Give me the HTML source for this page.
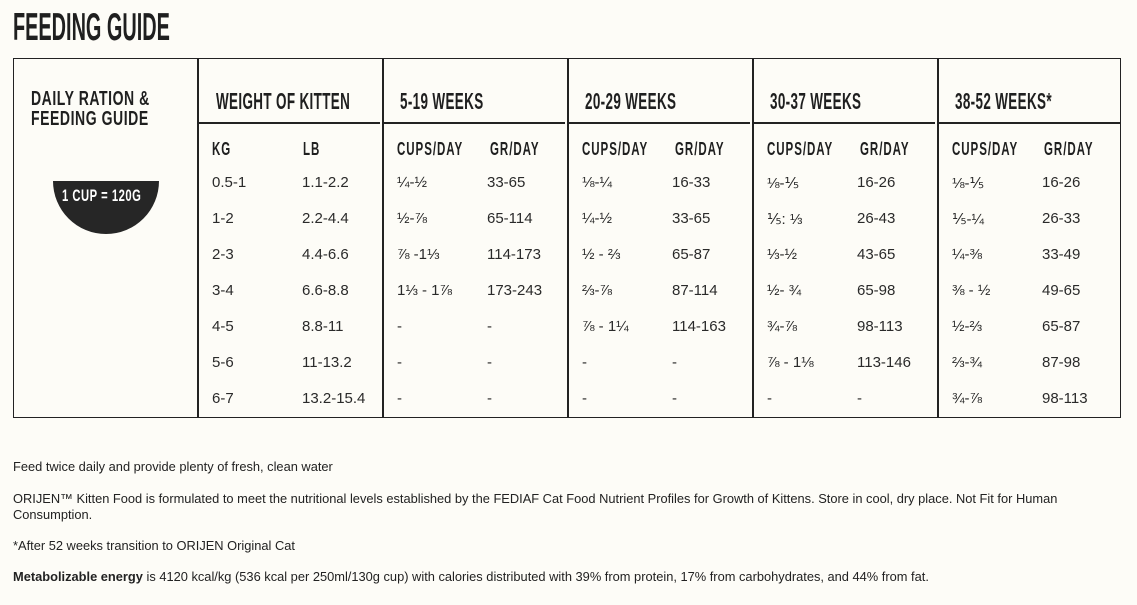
<!DOCTYPE html>
<html><head><meta charset="utf-8"><style>
body{margin:0;width:1137px;height:605px;background:#fdfcf7;position:relative;overflow:hidden;font-family:"Liberation Sans",sans-serif;color:#222}
.a{position:absolute;white-space:nowrap}
.h{font-family:"Liberation Sans",sans-serif;font-weight:bold;color:#1f1f1f;transform-origin:left top}
.hd{font-size:23px;letter-spacing:0.6px;top:88px;transform:scaleX(0.585)}
.sh{font-size:18px;letter-spacing:1.5px;top:139px;transform:scaleX(0.64)}
.d{font-family:"Liberation Sans",sans-serif;font-size:15px;color:#2a2a2a}
.vl{position:absolute;top:58px;height:360px;width:1.5px;background:#222}
.hl{position:absolute;top:122px;height:1.5px;background:#222}
.f{position:absolute;left:13px;font-size:12.85px;color:#222;line-height:16px;white-space:nowrap}
</style></head><body>
<div class="a h" style="left:13px;top:6px;font-size:39px;transform:scaleX(0.51)">FEEDING GUIDE</div>
<div style="position:absolute;left:13px;top:58px;width:1106px;height:358px;border:1.5px solid #222"></div>
<div class="vl" style="left:197px"></div><div class="vl" style="left:382px"></div><div class="vl" style="left:567px"></div><div class="vl" style="left:752px"></div><div class="vl" style="left:937px"></div>
<div class="hl" style="left:199px;width:181px"></div><div class="hl" style="left:384px;width:181px"></div><div class="hl" style="left:569px;width:181px"></div><div class="hl" style="left:754px;width:181px"></div><div class="hl" style="left:939px;width:181px"></div>
<div class="a h" style="left:31px;top:89px;font-size:20px;letter-spacing:0.8px;line-height:20px;transform:scaleX(0.7)">DAILY RATION &amp;<br>FEEDING GUIDE</div>
<div style="position:absolute;left:53px;top:181px;width:106px;height:53px;background:#262626;border-radius:0 0 53px 53px"></div>
<div class="a h" style="left:62px;top:186px;font-size:17px;color:#fff;letter-spacing:0.8px;transform:scaleX(0.66)">1 CUP = 120G</div>
<div class="a h hd" style="left:216px">WEIGHT OF KITTEN</div>
<div class="a h hd" style="left:400px">5-19 WEEKS</div>
<div class="a h hd" style="left:585px">20-29 WEEKS</div>
<div class="a h hd" style="left:770px">30-37 WEEKS</div>
<div class="a h hd" style="left:955px">38-52 WEEKS*</div>
<div class="a h sh" style="left:212px">KG</div><div class="a h sh" style="left:303px">LB</div>
<div class="a h sh" style="left:397px">CUPS/DAY</div><div class="a h sh" style="left:490px">GR/DAY</div>
<div class="a h sh" style="left:582px">CUPS/DAY</div><div class="a h sh" style="left:675px">GR/DAY</div>
<div class="a h sh" style="left:767px">CUPS/DAY</div><div class="a h sh" style="left:860px">GR/DAY</div>
<div class="a h sh" style="left:952px">CUPS/DAY</div><div class="a h sh" style="left:1044px">GR/DAY</div>
<div id="rows"></div>
<script>
var cols=[212,302,397,487,582,672,767,857,952,1042];
var data=[
["0.5-1","1.1-2.2","¼-½","33-65","⅛-¼","16-33","⅛-⅕","16-26","⅛-⅕","16-26"],
["1-2","2.2-4.4","½-⅞","65-114","¼-½","33-65","⅕: ⅓","26-43","⅕-¼","26-33"],
["2-3","4.4-6.6","⅞ -1⅓","114-173","½ - ⅔","65-87","⅓-½","43-65","¼-⅜","33-49"],
["3-4","6.6-8.8","1⅓ - 1⅞","173-243","⅔-⅞","87-114","½- ¾","65-98","⅜ - ½","49-65"],
["4-5","8.8-11","-","-","⅞ - 1¼","114-163","¾-⅞","98-113","½-⅔","65-87"],
["5-6","11-13.2","-","-","-","-","⅞ - 1⅛","113-146","⅔-¾","87-98"],
["6-7","13.2-15.4","-","-","-","-","-","-","¾-⅞","98-113"]];
var h="";data.forEach(function(r,i){r.forEach(function(t,j){h+='<div class="a d" style="left:'+cols[j]+'px;top:'+(174+i*36)+'px">'+t+'</div>'})});
document.getElementById("rows").innerHTML=h;
</script>
<div class="f" style="top:459px">Feed twice daily and provide plenty of fresh, clean water</div>
<div class="f" style="top:491px">ORIJEN™ Kitten Food is formulated to meet the nutritional levels established by the FEDIAF Cat Food Nutrient Profiles for Growth of Kittens. Store in cool, dry place. Not Fit for Human<br>Consumption.</div>
<div class="f" style="top:538px">*After 52 weeks transition to ORIJEN Original Cat</div>
<div class="f" style="top:569px"><b>Metabolizable energy</b> is 4120 kcal/kg (536 kcal per 250ml/130g cup) with calories distributed with 39% from protein, 17% from carbohydrates, and 44% from fat.</div>
</body></html>
